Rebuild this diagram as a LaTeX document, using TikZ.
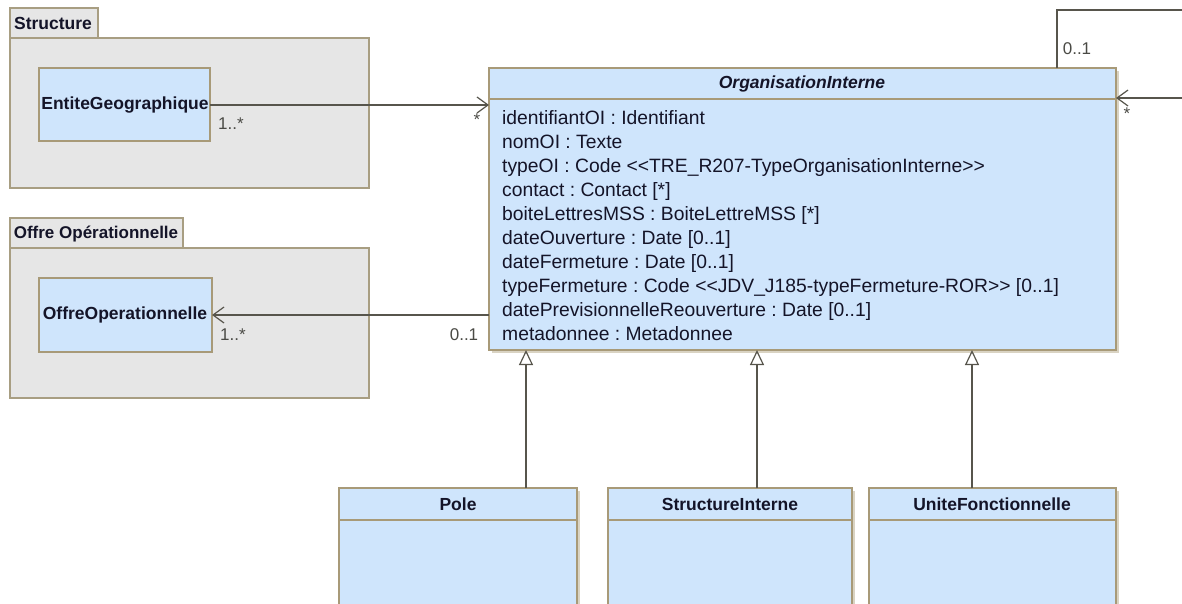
\documentclass[tikz,border=0pt]{standalone}
\usepackage{fontspec}
\setmainfont{Liberation Sans}
\usetikzlibrary{arrows.meta,shadows}
\definecolor{pkgfill}{HTML}{E6E6E6}
\definecolor{pkgdraw}{HTML}{A89E82}
\definecolor{clsfill}{HTML}{CFE5FC}
\definecolor{clsdraw}{HTML}{A89A78}
\definecolor{conn}{HTML}{57554C}
\definecolor{txt}{HTML}{141428}
\definecolor{multc}{HTML}{4A4A45}
\definecolor{shad}{HTML}{CFC8B4}
\frenchspacing
\begin{document}
\begin{tikzpicture}[x=1pt,y=-1pt,
  pkg/.style={draw=pkgdraw,fill=pkgfill,line width=1.6pt,inner sep=0pt,outer sep=0pt,anchor=north west},
  pkglabel/.style={font=\fontsize{17.5}{20}\selectfont\bfseries,text=txt,inner sep=0pt},
  cls/.style={draw=clsdraw,fill=clsfill,line width=1.6pt,inner sep=0pt,outer sep=0pt,anchor=north west},
  clsshadow/.style={cls,drop shadow={shadow xshift=3pt,shadow yshift=-3pt,fill=shad,opacity=0.8}},
  clsname/.style={font=\fontsize{17.5}{20}\selectfont\bfseries,text=txt,inner sep=0pt},
  attr/.style={font=\fontsize{19.3}{22}\selectfont,text=txt,inner sep=0pt,anchor=base west},
  mult/.style={font=\fontsize{17}{20}\selectfont,text=multc,inner sep=0pt},
  assoc/.style={draw=conn,line width=1.5pt,-{Straight Barb[length=11pt,width=16pt,line width=1.2pt]}},
  gen/.style={draw=conn,line width=1.5pt,-{Triangle[open,length=15pt,width=14pt,line width=1.2pt,fill=white]}},
  sepline/.style={draw=clsdraw,line width=1.6pt}
]
\useasboundingbox (0,0) rectangle (1182,603);
\clip (0,0) rectangle (1182,603);

% Packages
\node[pkg,minimum width=88pt,minimum height=30pt] (tab1) at (10,8) {};
\node[pkg,minimum width=359pt,minimum height=150pt] (pk1) at (10,38) {};
\node[pkglabel] (pk1l) at (53,23) {Structure};
\node[pkg,minimum width=173pt,minimum height=30pt] (tab2) at (10,218) {};
\node[pkg,minimum width=359pt,minimum height=150pt] (pk2) at (10,248) {};
\node[pkglabel,font=\fontsize{17}{20}\selectfont\bfseries] (pk2l) at (96,234) {Offre Opérationnelle};

% Classes in packages
\node[cls,minimum width=171pt,minimum height=73pt] (eg) at (39,68) {};
\node[clsname] (egl) at (125,105) {EntiteGeographique};
\node[cls,minimum width=173pt,minimum height=74pt] (oo) at (39,278) {};
\node[clsname] (ool) at (125,315) {OffreOperationnelle};

% OrganisationInterne
\node[clsshadow,minimum width=627pt,minimum height=282pt] (oi) at (489,68) {};
\draw[sepline] ([yshift=-31pt]oi.north west) -- ([yshift=-31pt]oi.north east);
\node[font=\fontsize{17.5}{20}\selectfont\bfseries\itshape,text=txt,inner sep=0pt] (oit) at (802,84) {OrganisationInterne};
\node[attr] (a1) at (502,124.0) {identifiantOI : Identifiant};
\node[attr] (a2) at (502,148.1) {nomOI : Texte};
\node[attr] (a3) at (502,172.2) {typeOI : Code <{}<TRE\_R207-TypeOrganisationInterne>{}>};
\node[attr] (a4) at (502,196.3) {contact : Contact [*]};
\node[attr] (a5) at (502,220.4) {boiteLettresMSS : BoiteLettreMSS [*]};
\node[attr] (a6) at (502,244.5) {dateOuverture : Date [0..1]};
\node[attr] (a7) at (502,268.6) {dateFermeture : Date [0..1]};
\node[attr] (a8) at (502,292.7) {typeFermeture : Code <{}<JDV\_J185-typeFermeture-ROR>{}> [0..1]};
\node[attr] (a9) at (502,316.8) {datePrevisionnelleReouverture : Date [0..1]};
\node[attr] (a10) at (502,340.9) {metadonnee : Metadonnee};

% Subclasses
\node[clsshadow,minimum width=238pt,minimum height=130pt] (pole) at (339,488) {};
\draw[sepline] ([yshift=-32pt]pole.north west) -- ([yshift=-32pt]pole.north east);
\node[clsname] (polel) at (458,504) {Pole};
\node[clsshadow,minimum width=244pt,minimum height=130pt] (si) at (608,488) {};
\draw[sepline] ([yshift=-32pt]si.north west) -- ([yshift=-32pt]si.north east);
\node[clsname] (sil) at (730,504) {StructureInterne};
\node[clsshadow,minimum width=247pt,minimum height=130pt] (uf) at (869,488) {};
\draw[sepline] ([yshift=-32pt]uf.north west) -- ([yshift=-32pt]uf.north east);
\node[clsname] (ufl) at (992,504) {UniteFonctionnelle};

% Associations
\draw[assoc] (eg.east |- 0,105) -- (oi.west |- 0,105);
\node[mult] (m1) at (231,124) {1..*};
\node[mult] (m2) at (477,120) {*};
\draw[assoc] (oi.west |- 0,315) -- (oo.east |- 0,315);
\node[mult] (m3) at (233,335) {1..*};
\node[mult] (m4) at (464,335) {0..1};

% Self association
\coordinate (s1) at (1057,10);
\coordinate (s2) at (1195,10);
\coordinate (s3) at (1195,98);
\draw[draw=conn,line width=1.5pt] (oi.north -| s1) -- (s1) -- (s2) -- (s3);
\draw[assoc] (s3) -- (oi.east |- s3);
\node[mult] (m5) at (1077,49) {0..1};
\node[mult] (m6) at (1127,114) {*};

% Generalizations
\draw[gen] (pole.north -| 526,0) -- (oi.south -| 526,0);
\draw[gen] (si.north -| 757,0) -- (oi.south -| 757,0);
\draw[gen] (uf.north -| 972,0) -- (oi.south -| 972,0);
\end{tikzpicture}
\end{document}
